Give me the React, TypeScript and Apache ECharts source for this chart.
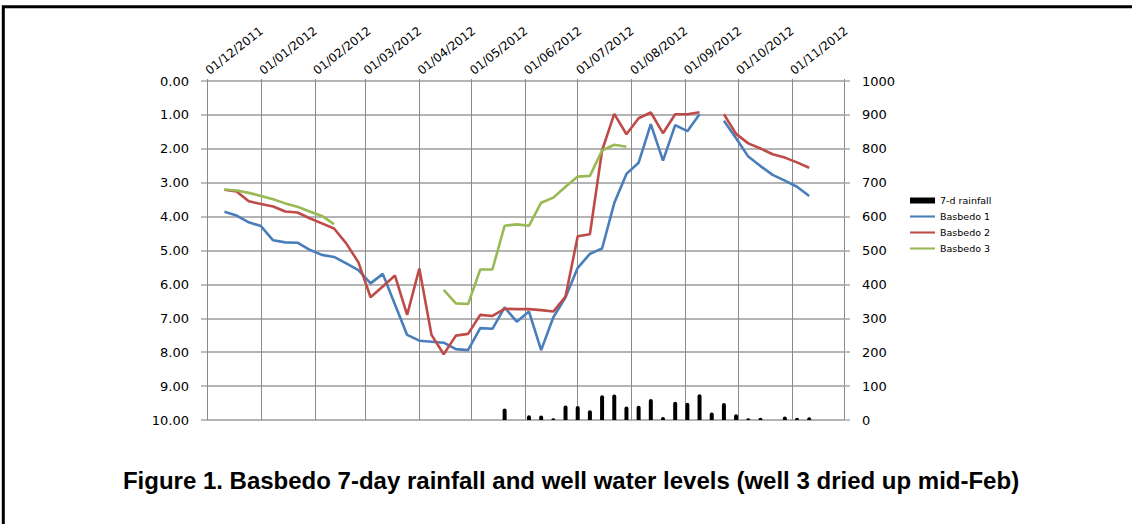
import React, { useEffect, useRef } from "react";
import * as echarts from "echarts";

// Weekly observation dates (dd/mm/yyyy)
const weekDates: string[] = [
  "11/12/2011", "18/12/2011", "25/12/2011", "01/01/2012", "08/01/2012", "15/01/2012", "22/01/2012",
  "29/01/2012", "05/02/2012", "12/02/2012", "19/02/2012", "26/02/2012", "04/03/2012", "11/03/2012",
  "18/03/2012", "25/03/2012", "01/04/2012", "08/04/2012", "15/04/2012", "22/04/2012", "29/04/2012",
  "06/05/2012", "13/05/2012", "20/05/2012", "27/05/2012", "03/06/2012", "10/06/2012", "17/06/2012",
  "24/06/2012", "01/07/2012", "08/07/2012", "15/07/2012", "22/07/2012", "29/07/2012", "05/08/2012",
  "12/08/2012", "19/08/2012", "26/08/2012", "02/09/2012", "09/09/2012", "16/09/2012", "23/09/2012",
  "30/09/2012", "07/10/2012", "14/10/2012", "21/10/2012", "28/10/2012", "04/11/2012", "11/11/2012",
];

// Well water levels (m below ground)
const basbedo1: (number | null)[] = [
  3.86, 3.97, 4.17, 4.28, 4.70, 4.76, 4.77, 4.98, 5.13, 5.19, 5.38, 5.58, 5.97, 5.69,
  6.59, 7.49, 7.66, 7.69, 7.72, 7.91, 7.94, 7.29, 7.31, 6.68, 7.10, 6.80, 7.94, 6.97,
  6.38, 5.51, 5.10, 4.94, 3.60, 2.74, 2.41, 1.27, 2.35, 1.30, 1.48, 0.98, null, 1.17,
  1.69, 2.23, 2.51, 2.77, 2.94, 3.12, 3.39,
];
const basbedo2: (number | null)[] = [
  3.21, 3.26, 3.55, 3.63, 3.70, 3.85, 3.88, 4.05, 4.20, 4.35, 4.79, 5.35, 6.38, 6.06,
  5.74, 6.90, 5.53, 7.49, 8.06, 7.51, 7.46, 6.90, 6.93, 6.72, 6.73, 6.73, 6.76, 6.80,
  6.36, 4.58, 4.52, 2.05, 0.97, 1.57, 1.10, 0.93, 1.54, 0.98, 0.98, 0.92, null, 0.98,
  1.56, 1.84, 1.99, 2.16, 2.26, 2.40, 2.56,
];
const basbedo3: (number | null)[] = [
  3.20, 3.23, 3.30, 3.39, 3.49, 3.61, 3.71, 3.85, 3.98, 4.22, null, null, null, null,
  null, null, null, null, 6.16, 6.56, 6.58, 5.56, 5.56, 4.27, 4.23, 4.27, 3.59, 3.44,
  3.12, 2.82, 2.80, 2.05, 1.88, 1.94, null, null, null, null, null, null, null, null,
  null, null, null, null, null, null, null,
];
// 7-day rainfall (mm)
const rainfall7d: (number | null)[] = [
  null, null, null, null, null, null, null, null, null, null, null, null, null, null,
  null, null, null, null, null, null, null, null, null, 34, null, 14, 13, 5,
  43, 41, 29, 73, 75, 40, 42, 62, 9, 54, 51, 76, 22, 50,
  17, 5, 7, null, 10, 7, 8,
];

// Axis ticks
const monthTicks: string[] = [
  "01/12/2011", "01/01/2012", "01/02/2012", "01/03/2012", "01/04/2012", "01/05/2012",
  "01/06/2012", "01/07/2012", "01/08/2012", "01/09/2012", "01/10/2012", "01/11/2012", "01/12/2012",
];
const monthLabels: string[] = monthTicks.slice(0, 12);

const seriesNames = ["7-d rainfall", "Basbedo 1", "Basbedo 2", "Basbedo 3"];
const titleText = "Figure 1. Basbedo 7-day rainfall and well water levels (well 3 dried up mid-Feb)";

function parseDate(s: string): number {
  const [d, m, y] = s.split("/").map(Number);
  return Date.UTC(y, m - 1, d);
}
function fmtDate(t: number): string {
  const d = new Date(t);
  const dd = String(d.getUTCDate()).padStart(2, "0");
  const mm = String(d.getUTCMonth() + 1).padStart(2, "0");
  return `${dd}/${mm}/${d.getUTCFullYear()}`;
}

export default function App() {
  const ref = useRef<HTMLDivElement>(null);
  useEffect(() => {
    if (!ref.current) return;
    const chart = echarts.init(ref.current, undefined, { renderer: "svg" });
    const times = weekDates.map(parseDate);
    const pair = (arr: (number | null)[]) => times.map((t, i) => [t, arr[i]]);
    const tickVals = monthTicks.map(parseDate);
    const labelVals = monthLabels.map(parseDate);
    const font = "DejaVu Sans";
    const lineIcon = "path://M0 0H48V4H0Z";

    chart.setOption({
      animation: false,
      backgroundColor: "#fff",
      grid: { left: 207, right: 288, top: 81, bottom: 104, containLabel: false },
      title: {
        text: titleText,
        left: 566,
        textAlign: "center",
        top: 463,
        textStyle: { fontFamily: "Liberation Sans, Arial", fontWeight: "bold", fontSize: 24, color: "#000" },
      },
      legend: {
        orient: "vertical",
        left: 910,
        top: 195,
        padding: 0,
        itemWidth: 25,
        itemHeight: 6,
        itemGap: 5,
        data: [
          { name: seriesNames[0], icon: "rect" },
          { name: seriesNames[1], icon: lineIcon },
          { name: seriesNames[2], icon: lineIcon },
          { name: seriesNames[3], icon: lineIcon },
        ],
        textStyle: { fontFamily: font, fontSize: 9.5, color: "#000", lineHeight: 11 },
      },
      xAxis: {
        type: "value",
        position: "top",
        min: tickVals[0],
        max: tickVals[tickVals.length - 1],
        axisLine: { show: false },
        axisTick: { show: true, length: 2, customValues: tickVals, lineStyle: { color: "#888" } },
        axisLabel: {
          customValues: labelVals,
          rotate: 38,
          margin: 9,
          fontFamily: font,
          fontSize: 12,
          color: "#000",
          hideOverlap: false,
          formatter: (v: number) => fmtDate(v),
        },
        splitLine: { show: true, lineStyle: { color: "#8a8a8a", width: 1 } },
      },
      yAxis: [
        {
          type: "value",
          inverse: true,
          min: 0,
          max: 10,
          interval: 1,
          position: "left",
          axisLine: { show: false },
          axisTick: { show: true, length: 6, lineStyle: { color: "#a8a8a8", width: 1.5 } },
          axisLabel: {
            margin: 18,
            fontFamily: font,
            fontSize: 13,
            color: "#000",
            formatter: (v: number) => v.toFixed(2),
          },
          splitLine: { show: true, lineStyle: { color: "#b4b4b4", width: 2 } },
        },
        {
          type: "value",
          min: 0,
          max: 1000,
          interval: 100,
          position: "right",
          axisLine: { show: false },
          axisTick: { show: true, length: 6, lineStyle: { color: "#a8a8a8", width: 1.5 } },
          axisLabel: {
            margin: 18,
            fontFamily: font,
            fontSize: 13,
            color: "#000",
            formatter: (v: number) => String(v),
          },
          splitLine: { show: false },
        },
      ],
      graphic: [
        {
          type: "rect",
          shape: { x: 3.3, y: 6.7, width: 1300, height: 700 },
          style: { fill: "none", stroke: "#000", lineWidth: 3 },
          silent: true,
        },
      ],
      series: [
        {
          name: seriesNames[0],
          type: "bar",
          yAxisIndex: 1,
          barWidth: 4,
          itemStyle: { color: "#000", borderRadius: [2, 2, 0, 0] },
          data: pair(rainfall7d),
        },
        {
          name: seriesNames[1],
          type: "line",
          symbol: "none",
          connectNulls: false,
          lineStyle: { color: "#4a7ebb", width: 2.6 },
          itemStyle: { color: "#4a7ebb" },
          data: pair(basbedo1),
        },
        {
          name: seriesNames[2],
          type: "line",
          symbol: "none",
          connectNulls: false,
          lineStyle: { color: "#be4b48", width: 2.6 },
          itemStyle: { color: "#be4b48" },
          data: pair(basbedo2),
        },
        {
          name: seriesNames[3],
          type: "line",
          symbol: "none",
          connectNulls: false,
          lineStyle: { color: "#98b954", width: 2.6 },
          itemStyle: { color: "#98b954" },
          data: pair(basbedo3),
        },
      ],
    });
    return () => chart.dispose();
  }, []);
  return (
    <div
      ref={ref}
      style={{ position: "fixed", left: 0, top: 0, width: 1132, height: 524, background: "#fff" }}
    />
  );
}
